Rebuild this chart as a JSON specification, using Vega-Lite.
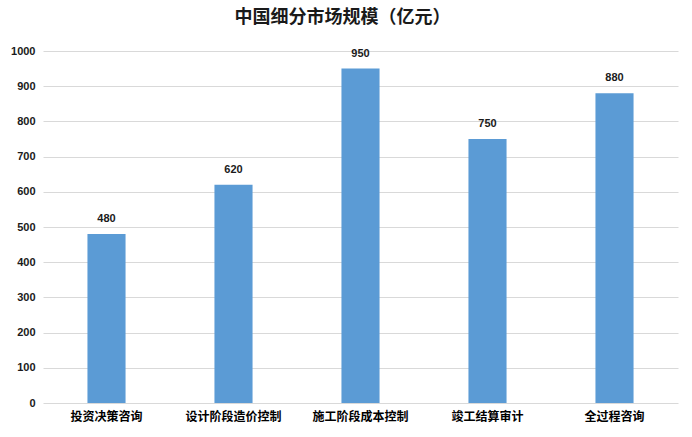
{
  "$schema": "https://vega.github.io/schema/vega-lite/v6.json",
  "autosize": {"type": "none"},
  "width": 635,
  "height": 352,
  "padding": {"left": 43, "top": 51, "right": 14, "bottom": 34},
  "background": "white",
  "title": {
    "text": "中国细分市场规模（亿元）",
    "font": "Noto Sans CJK SC",
    "fontSize": 18,
    "fontWeight": "bold",
    "color": "#1a1a1a",
    "anchor": "middle",
    "frame": "group",
    "dx": -18,
    "offset": 18
  },
  "data": {
    "values": [
      {"category": "投资决策咨询", "value": 480},
      {"category": "设计阶段造价控制", "value": 620},
      {"category": "施工阶段成本控制", "value": 950},
      {"category": "竣工结算审计", "value": 750},
      {"category": "全过程咨询", "value": 880}
    ]
  },
  "encoding": {
    "x": {
      "field": "category",
      "type": "nominal",
      "sort": null,
      "scale": {"paddingInner": 0.7, "paddingOuter": 0.35},
      "axis": {
        "title": null,
        "labelAngle": 0,
        "labelFont": "Noto Sans CJK SC",
        "labelFontSize": 12,
        "labelFontWeight": "bold",
        "labelColor": "#000000",
        "labelPadding": 8,
        "ticks": false,
        "domain": false
      }
    },
    "y": {
      "field": "value",
      "type": "quantitative",
      "scale": {"domain": [0, 1000], "nice": false},
      "axis": {
        "title": null,
        "format": "d",
        "values": [0, 100, 200, 300, 400, 500, 600, 700, 800, 900, 1000],
        "labelFont": "Liberation Sans",
        "labelFontSize": 11,
        "labelFontWeight": "bold",
        "labelColor": "#1a1a1a",
        "labelPadding": 8,
        "ticks": false,
        "domain": false,
        "grid": true,
        "gridColor": "#D9D9D9",
        "gridWidth": 1
      }
    }
  },
  "layer": [
    {"mark": {"type": "bar", "color": "#5B9BD5"}},
    {
      "mark": {
        "type": "text",
        "baseline": "middle",
        "dy": -15,
        "font": "Liberation Sans",
        "fontSize": 11,
        "fontWeight": "bold",
        "color": "#1a1a1a"
      },
      "encoding": {"text": {"field": "value", "type": "quantitative"}}
    }
  ],
  "config": {"view": {"stroke": null}}
}
